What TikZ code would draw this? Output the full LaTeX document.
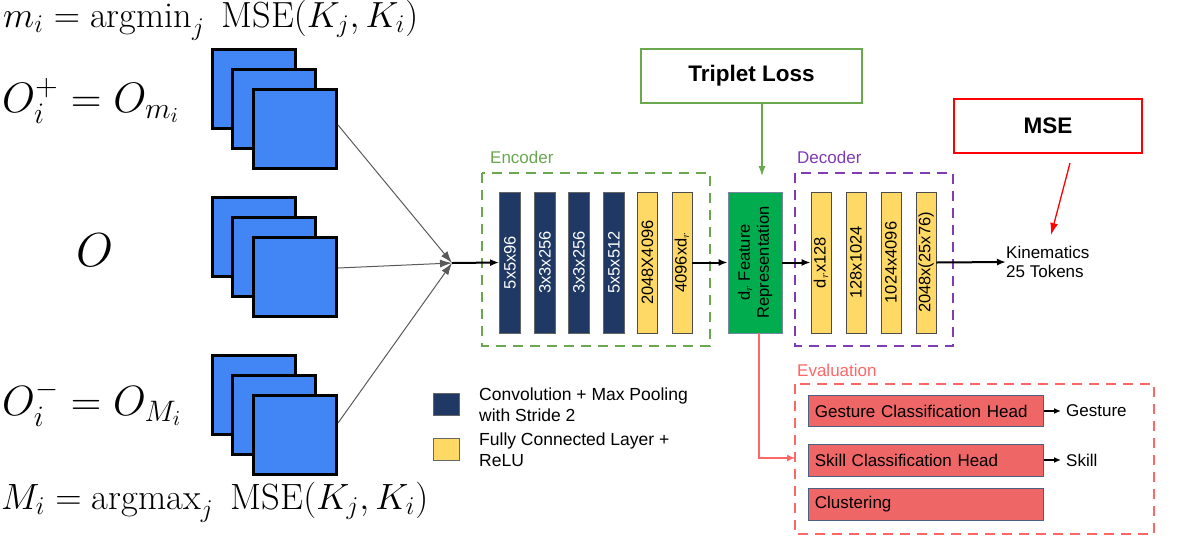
\RequirePackage{fix-cm}
\documentclass[tikz,border=0pt]{standalone}
\usepackage{amsmath}
\usepackage{graphicx}
\usepackage{fontspec}
\setsansfont{Liberation Sans}
\usetikzlibrary{arrows.meta,positioning,calc}
\definecolor{navy}{RGB}{31,56,100}
\definecolor{fcyel}{RGB}{255,217,102}
\definecolor{sqblue}{RGB}{66,133,244}
\definecolor{featgreen}{RGB}{0,172,77}
\definecolor{encgreen}{RGB}{106,168,79}
\definecolor{decpurple}{RGB}{128,60,180}
\definecolor{evalred}{RGB}{255,102,102}
\definecolor{headred}{RGB}{238,102,102}
\definecolor{arrgray}{RGB}{90,90,90}
\tikzset{
  sq/.style={rectangle, draw=black, fill=sqblue, line width=3pt, minimum width=83pt, minimum height=79pt, anchor=north west, inner sep=0pt},
  conv/.style={rectangle, draw=black!60, fill=navy, line width=0.8pt, minimum width=21pt, minimum height=141pt, inner sep=0pt, text=white},
  fc/.style={rectangle, draw=black!70, fill=fcyel, line width=0.8pt, minimum width=20pt, minimum height=141pt, inner sep=0pt, text=black},
  lbl/.style={font=\fontsize{16.5}{18}\sffamily, rotate=90},
  txt/.style={font=\fontsize{17}{19.5}\sffamily, align=left, inner sep=0pt},
  head/.style={rectangle, draw=navy!80, fill=headred, line width=0.8pt, minimum width=235pt, minimum height=31pt, inner sep=0pt, anchor=west, text width=222pt, align=left, font=\fontsize{17}{19}\sffamily},
  darr/.style={line width=2pt, -{Latex[length=9pt,width=7pt]}},
  garr/.style={arrgray, line width=1pt, -{Latex[length=12pt,width=8pt]}},
  mth/.style={inner sep=0pt, anchor=base west, font=\fontsize{20}{24}\selectfont},
}
\begin{document}
\begin{tikzpicture}[x=1pt,y=-1pt]
\useasboundingbox (0,0) rectangle (1179,539);
% math labels
\node[mth] (mtop) at (3,27) {\resizebox{415pt}{!}{$m_i = \operatorname{argmin}_j\ \mathrm{MSE}(K_j, K_i)$}};
\node[mth] (opos) at (2,112) {\resizebox{178pt}{!}{$O_i^+ = O_{m_i}$}};
\node[mth] (oanc) at (76,266) {\resizebox{37pt}{!}{$O$}};
\node[mth] (oneg) at (2,415) {\resizebox{180pt}{!}{$O_i^- = O_{M_i}$}};
\node[mth] (mbot) at (1,509) {\resizebox{427pt}{!}{$M_i = \operatorname{argmax}_j\ \mathrm{MSE}(K_j, K_i)$}};
% stacks
\foreach \n/\y in {1/48, 2/196, 3/354} {
  \node[sq] (b\n) at (211,\y) {};
  \node[sq] (m\n) at (231,\y+20) {};
  \node[sq] (f\n) at (252,\y+40) {};
}
\coordinate (hub) at (452,263);
\draw[garr] ([yshift=4pt]f1.east) -- (hub);
\draw[garr] ([yshift=9pt]f2.east) -- (hub);
\draw[garr] ([yshift=12pt]f3.east) -- (hub);
% encoder
\draw[encgreen, line width=2.5pt, dash pattern=on 10pt off 7pt] (482,173) rectangle (710,346);
\node[txt, text=encgreen, anchor=base west] (enclbl) at (490,163) {Encoder};
\node[conv] (e1) at (510,262.5) {}; \node[lbl, text=white] at (e1) {5x5x96};
\node[conv] (e2) at (545,262.5) {}; \node[lbl, text=white] at (e2) {3x3x256};
\node[conv] (e3) at (579,262.5) {}; \node[lbl, text=white] at (e3) {3x3x256};
\node[conv] (e4) at (614,262.5) {}; \node[lbl, text=white] at (e4) {5x5x512};
\node[fc] (e5) at (647.5,262.5) {}; \node[lbl] at (e5) {2048X4096};
\node[fc] (e6) at (682,262.5) {}; \node[lbl] at (e6) {4096xd$_r$};
\draw[darr] (hub) -- (e1.west);
% feature
\node[rectangle, draw=navy!60, fill=featgreen, line width=0.8pt, minimum width=54pt, minimum height=141pt, inner sep=0pt] (feat) at (755,262.5) {};
\node[lbl, align=center, font=\fontsize{16.5}{19}\sffamily] at (feat) {d$_r$ Feature\\Representation};
\draw[darr] (e6.east) -- (feat.west);
% decoder
\draw[decpurple, line width=2.5pt, dash pattern=on 10pt off 7pt] (795,173) rectangle (953,346);
\node[txt, text=decpurple, anchor=base west] (declbl) at (797,163) {Decoder};
\node[fc] (d1) at (821,262.5) {}; \node[lbl] at (d1) {d$_r$x128};
\node[fc] (d2) at (856,262.5) {}; \node[lbl] at (d2) {128x1024};
\node[fc] (d3) at (891,262.5) {}; \node[lbl] at (d3) {1024x4096};
\node[fc] (d4) at (926,262.5) {}; \node[lbl] at (d4) {2048x(25x76)};
\draw[darr] (feat.east) -- (d1.west);
\node[txt, anchor=west] (kin) at (1006,262) {Kinematics\\25 Tokens};
\draw[darr] (d4.east) -- (kin.west);
% losses
\node[rectangle, draw=encgreen, line width=1.2pt, minimum width=221pt, minimum height=54pt, font=\fontsize{22.5}{26}\sffamily\bfseries] (trip) at (751.5,76) {Triplet Loss};
\draw[encgreen, line width=1.2pt, -{Latex[length=10pt,width=7pt]}] (762,103) -- (762,176);
\node[rectangle, draw=red, line width=1.5pt, minimum width=188pt, minimum height=54pt, font=\fontsize{22.5}{26}\sffamily\bfseries] (mse) at (1048,126) {MSE};
\coordinate (msetip) at (1051,235);
\draw[red, line width=1.3pt, -{Latex[length=12pt,width=8pt]}] (1070,163) -- (msetip);
% evaluation
\draw[evalred, line width=2.5pt, dash pattern=on 10pt off 7pt] (795,384) rectangle (1154,534);
\node[txt, text=evalred, anchor=base west] (evallbl) at (797,376) {Evaluation};
\node[head] (gh) at (808,411) {Gesture Classification Head};
\node[head, minimum height=32pt] (sh) at (808,460) {Skill Classification Head};
\node[head, minimum height=32pt] (ch) at (808,504) {Clustering};
\node[txt, anchor=west] (gest) at (1066,411) {Gesture};
\node[txt, anchor=west] (skill) at (1066,460) {Skill};
\draw[line width=1.5pt, -{Latex[length=7pt,width=6pt]}] (gh.east) -- (1061,411);
\draw[line width=1.5pt, -{Latex[length=7pt,width=6pt]}] (sh.east) -- (1061,460);
\coordinate (evalin) at (795,458);
\draw[evalred, line width=1.5pt, -{Latex[length=8pt,width=7pt]}] (759,333) |- (evalin);
% legend
\node[rectangle, draw=black!60, fill=navy, minimum width=26pt, minimum height=22pt, inner sep=0pt, line width=0.8pt] (lg1) at (446,404) {};
\node[rectangle, draw=black!60, fill=fcyel, minimum width=26pt, minimum height=22pt, inner sep=0pt, line width=0.8pt] (lg2) at (446,449) {};
\node[txt, anchor=west, font=\fontsize{17.5}{21}\sffamily] (lt1) at (479,405) {Convolution + Max Pooling\\with Stride 2};
\node[txt, anchor=west, font=\fontsize{17.5}{21}\sffamily] (lt2) at (479,450) {Fully Connected Layer +\\ReLU};
\end{tikzpicture}
\end{document}
